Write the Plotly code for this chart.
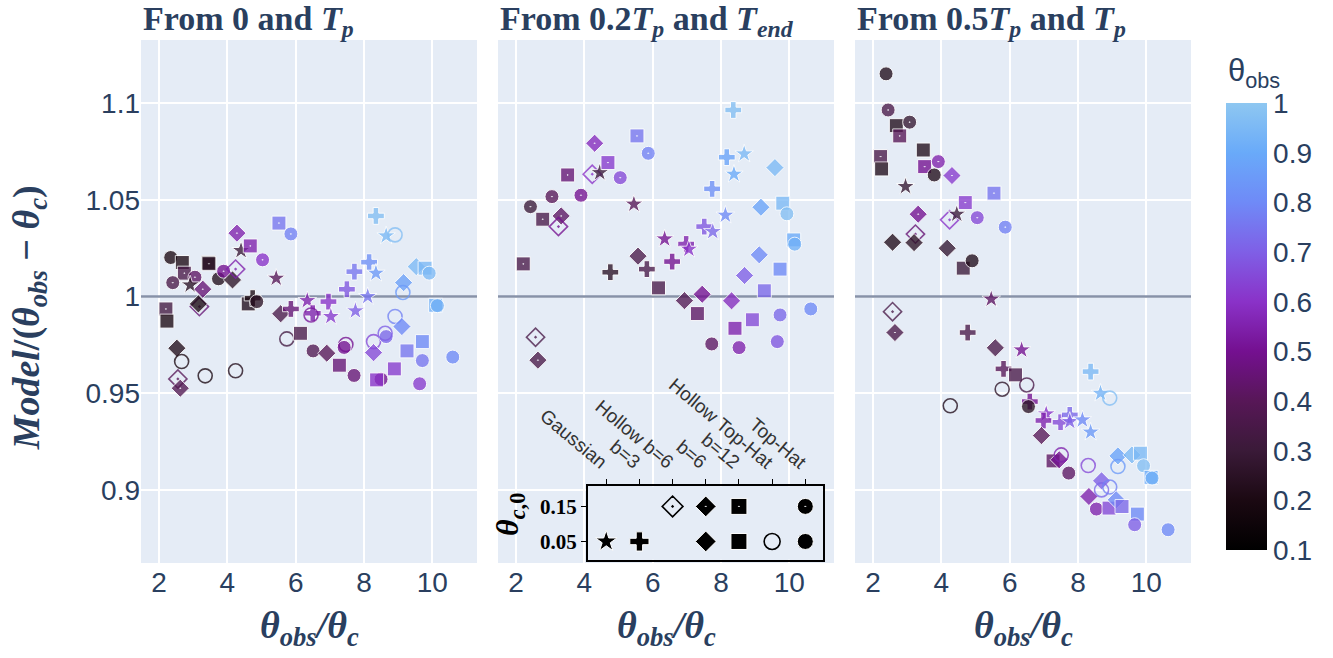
import plotly.graph_objects as go
from plotly.subplots import make_subplots

# Jet-structure categories shown in the symbol key
MODEL_KEYS = ["G", "b3", "H6", "b6", "b12", "HTH", "TH"]
MODEL_LABELS = ["Gaussian", "b=3", "Hollow b=6", "b=6", "b=12", "Hollow Top-Hat", "Top-Hat"]
THC0_TICKS = [0.05, 0.15]

# Panel 1: fit between 0 and T_p
P1_MODEL = ["TH", "b12", "b12", "TH", "TH", "G", "b12", "b12", "TH", "TH", "b6", "H6", "b6", "G",
            "b12", "TH", "b6", "b12", "b12", "H6", "b6", "b12", "b3", "TH", "b6", "HTH", "H6", "b6",
            "HTH", "HTH", "G", "b12", "TH", "b6", "b3", "HTH", "b12", "TH", "b6", "b12", "TH", "HTH",
            "TH", "G", "b3", "HTH", "b3", "G", "b3", "G", "b3", "b3", "G", "G", "b3", "G", "HTH",
            "HTH", "TH", "HTH", "HTH", "b6", "b6", "HTH", "b6", "b12", "TH", "b12", "TH", "b6",
            "b12", "b12", "TH", "b12", "TH", "b12", "TH", "TH"]
P1_THC0 = [0.05, 0.05, 0.15, 0.15, 0.15, 0.05, 0.05, 0.15, 0.05, 0.15, 0.05, 0.15, 0.15, 0.05,
           0.15, 0.15, 0.15, 0.15, 0.05, 0.15, 0.05, 0.05, 0.05, 0.05, 0.05, 0.05, 0.15, 0.15,
           0.05, 0.05, 0.05, 0.15, 0.15, 0.05, 0.05, 0.05, 0.05, 0.05, 0.05, 0.05, 0.05, 0.05,
           0.05, 0.05, 0.05, 0.05, 0.05, 0.05, 0.05, 0.05, 0.05, 0.05, 0.05, 0.05, 0.05, 0.05,
           0.05, 0.05, 0.05, 0.05, 0.05, 0.05, 0.05, 0.05, 0.05, 0.05, 0.05, 0.05, 0.05, 0.05,
           0.05, 0.05, 0.05, 0.05, 0.05, 0.05, 0.05, 0.05]
P1_X = [2.34, 2.68, 2.74, 3.05, 2.40, 2.91, 3.44, 3.46, 3.74, 3.89, 4.15, 4.24, 4.28, 4.40,
        4.67, 5.03, 3.28, 2.20, 2.23, 3.18, 3.15, 4.61, 4.74, 4.86, 2.52, 2.66, 2.55, 2.62,
        3.35, 4.24, 5.43, 5.51, 5.86, 5.56, 5.86, 5.74, 6.14, 6.51, 6.91, 7.28, 7.71, 7.47,
        7.42, 6.34, 6.50, 6.45, 6.96, 7.03, 7.50, 7.75, 7.72, 8.15, 8.35, 8.11, 8.35, 8.65,
        8.91, 8.28, 8.65, 8.62, 8.91, 9.11, 9.16, 9.14, 9.53, 9.79, 9.91, 10.10, 10.15, 8.28,
        9.26, 9.71, 9.71, 8.89, 8.50, 8.37, 9.63, 10.60]
P1_Y = [1.0202, 1.0176, 1.0121, 1.0100, 1.0072, 1.0060, 1.0175, 1.0170, 1.0092, 1.0131,
        1.0086, 1.0142, 1.0328, 1.0238, 1.0262, 1.0190, 1.0038, 0.9936, 0.9873, 0.9948,
        0.9962, 0.9962, 0.9992, 0.9974, 0.9733, 0.9664, 0.9574, 0.9526, 0.9590, 0.9616,
        1.0095, 1.0380, 1.0324, 0.9911, 0.9936, 0.9781, 0.9810, 0.9719, 0.9707, 0.9645,
        0.9592, 0.9752, 0.9737, 0.9979, 0.9914, 0.9905, 0.9974, 0.9897, 1.0038, 0.9926,
        1.0129, 1.0178, 1.0121, 1.0000, 1.0417, 1.0314, 1.0319, 0.9767, 0.9793, 0.9810,
        0.9897, 0.9845, 1.0072, 1.0021, 1.0155, 1.0147, 1.0121, 0.9955, 0.9953, 0.9710,
        0.9719, 0.9767, 0.9669, 0.9626, 0.9573, 0.9569, 0.9549, 0.9687]
P1_THETA = [0.20, 0.20, 0.35, 0.42, 0.35, 0.25, 0.20, 0.25, 0.22, 0.50, 0.25, 0.55, 0.55, 0.30,
            0.55, 0.60, 0.45, 0.33, 0.20, 0.45, 0.20, 0.22, 0.20, 0.25, 0.22, 0.20, 0.40, 0.38,
            0.20, 0.22, 0.40, 0.75, 0.78, 0.35, 0.45, 0.33, 0.35, 0.38, 0.40, 0.45, 0.45, 0.50,
            0.50, 0.55, 0.55, 0.52, 0.60, 0.62, 0.68, 0.70, 0.75, 0.82, 0.85, 0.75, 0.97, 0.95,
            0.97, 0.65, 0.72, 0.70, 0.78, 0.80, 0.87, 0.85, 0.95, 0.95, 0.95, 0.92, 0.92, 0.65,
            0.75, 0.80, 0.75, 0.62, 0.50, 0.60, 0.62, 0.80]

# Panel 2: fit between 0.2 T_p and T_end
P2_MODEL = ["b12", "TH", "b12", "TH", "b6", "H6", "b12", "TH", "b6", "H6", "G", "b12", "TH",
            "b12", "TH", "G", "H6", "b6", "b3", "b6", "b3", "b12", "b3", "G", "b3", "G", "b3",
            "G", "G", "b3", "b3", "G", "G", "b3", "b6", "b6", "b12", "TH", "b12", "TH", "b6",
            "b12", "b6", "b6", "b12", "TH", "TH", "b12", "b6", "b6", "b12", "TH", "b12", "TH", "TH"]
P2_THC0 = [0.15, 0.15, 0.15, 0.15, 0.15, 0.15, 0.15, 0.15, 0.15, 0.15, 0.05, 0.15, 0.15,
           0.15, 0.15, 0.05, 0.15, 0.15, 0.05, 0.05, 0.05, 0.05, 0.05, 0.05, 0.05, 0.05, 0.05,
           0.05, 0.05, 0.05, 0.05, 0.05, 0.05, 0.05, 0.05, 0.05, 0.05, 0.05, 0.05, 0.05, 0.05,
           0.05, 0.05, 0.05, 0.05, 0.05, 0.05, 0.05, 0.05, 0.05, 0.05, 0.05, 0.05, 0.05, 0.05]
P2_X = [2.21, 2.42, 2.78, 3.05, 3.32, 3.24, 3.51, 3.90, 4.30, 4.23, 4.45, 4.69, 5.05, 5.54,
        5.87, 5.45, 2.57, 2.64, 4.76, 5.57, 5.83, 6.17, 6.57, 6.35, 6.98, 7.06, 7.51, 7.76,
        8.13, 7.74, 8.17, 8.38, 8.68, 8.36, 6.93, 7.45, 7.31, 7.73, 8.41, 8.53, 8.31, 8.92,
        8.69, 9.12, 9.27, 9.73, 9.65, 9.73, 9.17, 9.58, 9.81, 9.93, 10.13, 10.16, 10.63]
P2_Y = [1.0169, 1.0465, 1.0400, 1.0517, 1.0417, 1.0362, 1.0629, 1.0524, 1.0793, 1.0633,
        1.0641, 1.0693, 1.0615, 1.0831, 1.0741, 1.0478, 0.9790, 0.9671, 1.0126, 1.0209,
        1.0142, 1.0045, 1.0181, 1.0298, 1.0272, 1.0245, 1.0362, 1.0336, 1.0421, 1.0557,
        1.0721, 1.0633, 1.0738, 1.0965, 0.9979, 1.0012, 0.9912, 0.9755, 0.9836, 0.9736,
        0.9978, 0.9880, 1.0109, 1.0216, 1.0030, 0.9905, 0.9767, 1.0142, 1.0462, 1.0667,
        1.0483, 1.0428, 1.0293, 1.0271, 0.9936]
P2_THETA = [0.35, 0.30, 0.35, 0.40, 0.42, 0.50, 0.45, 0.50, 0.58, 0.60, 0.30, 0.62, 0.65,
            0.75, 0.78, 0.40, 0.35, 0.35, 0.25, 0.35, 0.35, 0.35, 0.50, 0.50, 0.55, 0.60,
            0.68, 0.72, 0.80, 0.82, 0.88, 0.90, 0.95, 0.97, 0.38, 0.50, 0.42, 0.42, 0.55,
            0.55, 0.58, 0.65, 0.70, 0.80, 0.72, 0.72, 0.68, 0.80, 0.88, 0.95, 0.95, 0.97,
            0.90, 0.92, 0.80]

# Panel 3: fit between 0.5 T_p and T_p
P3_MODEL = ["TH", "TH", "b12", "TH", "b12", "b12", "b12", "b12", "b12", "TH", "TH", "b6", "G",
            "b12", "b12", "TH", "TH", "b6", "H6", "G", "H6", "b6", "b6", "b6", "b12", "TH", "G",
            "H6", "b6", "b3", "b6", "G", "b3", "b12", "HTH", "HTH", "HTH", "b3", "TH", "G", "b3",
            "b6", "b3", "b3", "G", "G", "G", "b3", "G", "HTH", "b12", "b6", "HTH", "TH", "HTH",
            "b6", "TH", "b12", "b6", "HTH", "HTH", "b6", "b12", "b6", "HTH", "b6", "b12", "TH",
            "b12", "TH", "b12", "TH", "TH"]
P3_THC0 = [0.05, 0.15, 0.05, 0.15, 0.15, 0.15, 0.05, 0.05, 0.15, 0.15, 0.05, 0.15, 0.05,
           0.15, 0.15, 0.15, 0.15, 0.15, 0.15, 0.05, 0.15, 0.05, 0.05, 0.05, 0.05, 0.05, 0.05,
           0.15, 0.15, 0.05, 0.05, 0.05, 0.05, 0.05, 0.05, 0.05, 0.05, 0.05, 0.05, 0.05, 0.05,
           0.05, 0.05, 0.05, 0.05, 0.05, 0.05, 0.05, 0.05, 0.05, 0.05, 0.05, 0.05, 0.05, 0.05,
           0.05, 0.05, 0.05, 0.05, 0.05, 0.05, 0.05, 0.05, 0.05, 0.05, 0.05, 0.05, 0.05, 0.05,
           0.05, 0.05, 0.05, 0.05]
P3_X = [2.38, 2.44, 2.68, 3.07, 2.78, 2.22, 2.25, 3.47, 3.51, 3.91, 3.79, 4.31, 2.95, 5.54,
        4.70, 5.05, 5.87, 3.32, 4.24, 4.45, 3.24, 2.57, 3.20, 4.17, 4.64, 4.90, 5.46, 2.57,
        2.64, 4.77, 5.58, 6.35, 5.82, 6.17, 5.78, 6.50, 4.26, 6.59, 6.55, 7.07, 6.99, 6.93,
        7.49, 7.76, 7.76, 8.13, 8.37, 8.37, 8.66, 8.93, 7.27, 7.45, 7.51, 7.73, 8.30, 8.32,
        8.54, 8.91, 8.69, 8.69, 8.93, 9.12, 9.29, 9.17, 9.17, 9.58, 9.83, 9.92, 10.14, 10.17,
        9.74, 9.66, 10.64]
P3_Y = [1.1152, 1.0965, 1.0884, 1.0902, 1.0831, 1.0724, 1.0660, 1.0758, 1.0672, 1.0698,
        1.0629, 1.0626, 1.0569, 1.0535, 1.0486, 1.0408, 1.0359, 1.0426, 1.0397, 1.0426,
        1.0323, 1.0281, 1.0279, 1.0250, 1.0147, 1.0185, 0.9987, 0.9922, 0.9814, 0.9814,
        0.9735, 0.9724, 0.9626, 0.9595, 0.9521, 0.9543, 0.9435, 0.9457, 0.9431, 0.9393,
        0.9359, 0.9281, 0.9350, 0.9388, 0.9354, 0.9362, 0.9299, 0.9612, 0.9500, 0.9475,
        0.9150, 0.9156, 0.9181, 0.9087, 0.9126, 0.8966, 0.8901, 0.8906, 0.9047, 0.9000,
        0.9015, 0.8949, 0.8914, 0.9176, 0.9121, 0.9181, 0.9190, 0.9125, 0.9065, 0.9061,
        0.8875, 0.8820, 0.8794]
P3_THETA = [0.22, 0.35, 0.22, 0.28, 0.40, 0.35, 0.22, 0.22, 0.50, 0.55, 0.22, 0.62, 0.28,
            0.75, 0.62, 0.65, 0.78, 0.50, 0.60, 0.30, 0.45, 0.22, 0.25, 0.28, 0.30, 0.22,
            0.42, 0.35, 0.35, 0.35, 0.35, 0.50, 0.40, 0.35, 0.25, 0.35, 0.22, 0.50, 0.25,
            0.60, 0.55, 0.40, 0.65, 0.72, 0.70, 0.80, 0.85, 0.95, 0.93, 0.97, 0.42, 0.50,
            0.55, 0.42, 0.65, 0.55, 0.55, 0.65, 0.70, 0.72, 0.78, 0.80, 0.72, 0.88, 0.85,
            0.95, 0.95, 0.97, 0.90, 0.92, 0.80, 0.70, 0.80]

# Entries of the symbol key (model, initial core angle)
KEY_MODEL = ["H6", "b6", "b12", "TH", "G", "b3", "b6", "b12", "HTH", "TH"]
KEY_THC0 = [0.15, 0.15, 0.15, 0.15, 0.05, 0.05, 0.05, 0.05, 0.05, 0.05]

PANEL_TITLES = ["From 0 and <i>T</i><sub><i>p</i></sub>",
                "From 0.2<i>T</i><sub><i>p</i></sub> and <i>T</i><sub><i>end</i></sub>",
                "From 0.5<i>T</i><sub><i>p</i></sub> and <i>T</i><sub><i>p</i></sub>"]

BASE_SYMBOL = {"G": "star", "b3": "cross", "H6": "diamond-open", "b6": "diamond",
               "b12": "square", "HTH": "circle-open", "TH": "circle"}

COLORSCALE = [[0.0, "#000000"], [1 / 9, "#1b0912"], [2 / 9, "#3a1a38"], [3 / 9, "#571757"],
              [4 / 9, "#741090"], [5 / 9, "#8a32c8"], [6 / 9, "#7f5fe6"], [7 / 9, "#6f8af7"],
              [8 / 9, "#69aaf9"], [1.0, "#8ec7f1"]]

X_RANGE = [1.47, 11.31]
Y_RANGE = [0.8622, 1.1327]
REFERENCE_LEVEL = 1.0

SANS = "Liberation Sans, Arial, sans-serif"
SERIF = "Liberation Serif, DejaVu Serif, serif"
INK = "#2a3f5f"


def symbol_for(model, thc0):
    s = BASE_SYMBOL[model]
    return s + "-dot" if thc0 > 0.1 else s


def line_widths(models):
    return [1.6 if BASE_SYMBOL[m].endswith("open") else 1.0 for m in models]


fig = make_subplots(rows=1, cols=3, shared_yaxes=True, horizontal_spacing=0.02)

panels = [(P1_MODEL, P1_THC0, P1_X, P1_Y, P1_THETA),
          (P2_MODEL, P2_THC0, P2_X, P2_Y, P2_THETA),
          (P3_MODEL, P3_THC0, P3_X, P3_Y, P3_THETA)]

for col, (models, thc0, xs, ys, th) in enumerate(panels, start=1):
    # unity reference line, drawn beneath the points
    fig.add_trace(go.Scatter(
        x=X_RANGE, y=[REFERENCE_LEVEL, REFERENCE_LEVEL], mode="lines", showlegend=False,
        hoverinfo="skip", line=dict(color="#8792a8", width=2.5),
    ), row=1, col=col)
    fig.add_trace(go.Scatter(
        x=xs, y=ys, mode="markers", showlegend=False,
        marker=dict(symbol=[symbol_for(m, t) for m, t in zip(models, thc0)],
                    size=14, color=th, coloraxis="coloraxis", opacity=0.78,
                    line=dict(color="white", width=line_widths(models))),
    ), row=1, col=col)

# Symbol key drawn as a small inset axis
fig.add_trace(go.Scatter(
    x=[MODEL_KEYS.index(m) for m in KEY_MODEL], y=KEY_THC0, mode="markers",
    showlegend=False, xaxis="x4", yaxis="y4",
    marker=dict(symbol=[symbol_for(m, t) for m, t in zip(KEY_MODEL, KEY_THC0)],
                size=16, color="black", line=dict(color="white", width=line_widths(KEY_MODEL))),
))

axis_font = dict(family=SANS, size=28, color=INK)
for i in range(1, 4):
    fig.update_xaxes(range=X_RANGE, tickvals=[2, 4, 6, 8, 10], tickfont=axis_font,
                     gridcolor="white", gridwidth=1.5, zeroline=False, row=1, col=i)
fig.update_yaxes(range=Y_RANGE, tickvals=[0.9, 0.95, 1, 1.05, 1.1],
                 ticktext=["0.9", "0.95", "1", "1.05", "1.1"], tickfont=axis_font,
                 gridcolor="white", gridwidth=1.5, zeroline=False)

fig.update_layout(
    width=1333, height=658,
    margin=dict(l=141, r=142, t=40, b=95),
    plot_bgcolor="#E5ECF6", paper_bgcolor="white",
    coloraxis=dict(
        colorscale=COLORSCALE, cmin=0.1, cmax=1.0,
        colorbar=dict(
            thickness=41, len=0.855, lenmode="fraction", y=0.4516, yanchor="middle",
            x=1.0336, xanchor="left", xpad=0, ypad=0, outlinewidth=0,
            ticks="outside", ticklen=1, tickcolor="rgba(0,0,0,0)",
            tickvals=[0.1, 0.2, 0.3, 0.4, 0.5, 0.6, 0.7, 0.8, 0.9, 1.0],
            ticktext=["0.1", "0.2", "0.3", "0.4", "0.5", "0.6", "0.7", "0.8", "0.9", "1"],
            tickfont=dict(family=SANS, size=28, color=INK),
        ),
    ),
    xaxis4=dict(domain=[0.4257, 0.6491], anchor="y4", side="top", range=[-0.55, 6.52],
                tickvals=list(range(len(MODEL_LABELS))), ticktext=MODEL_LABELS, tickangle=40,
                ticks="outside", ticklen=5, tickcolor="black", showgrid=False, zeroline=False,
                showline=True, mirror=True, linecolor="black", linewidth=2,
                tickfont=dict(family=SANS, size=19, color="#333333")),
    yaxis4=dict(domain=[0.0063, 0.1464], anchor="x4", range=[-0.002, 0.207],
                tickvals=THC0_TICKS, ticktext=["<b>0.05</b>", "<b>0.15</b>"],
                ticks="outside", ticklen=5, tickcolor="black", showgrid=False, zeroline=False,
                showline=True, mirror=True, linecolor="black", linewidth=2,
                tickfont=dict(family=SERIF, size=21, color="black")),
)

annotations = []
for i, (title, x0) in enumerate(zip(PANEL_TITLES, [0.0, 0.34, 0.68])):
    annotations.append(dict(text="<b>" + title + "</b>", x=x0, y=1.0, xref="paper", yref="paper",
                            xanchor="left", yanchor="bottom", showarrow=False, yshift=-4,
                            font=dict(family=SERIF, size=34, color=INK)))
    annotations.append(dict(text="<b><i>θ</i><sub><i>obs</i></sub><i>/θ</i><sub><i>c</i></sub></b>",
                            x=x0 + 0.16, y=-0.125, xref="paper", yref="paper",
                            xanchor="center", yanchor="middle", showarrow=False,
                            font=dict(family=SERIF, size=38, color=INK)))
annotations.append(dict(text="<b><i>Model</i>/(<i>θ</i><sub><i>obs</i></sub> − <i>θ</i><sub><i>c</i></sub>)</b>",
                        x=-0.107, y=0.469, xref="paper", yref="paper", textangle=-90,
                        xanchor="center", yanchor="middle", showarrow=False,
                        font=dict(family=SERIF, size=38, color=INK)))
annotations.append(dict(text="<b><i>θ</i><sub><i>c</i>,0</sub></b>",
                        x=0.3515, y=0.092, xref="paper", yref="paper", textangle=-90,
                        xanchor="center", yanchor="middle", showarrow=False,
                        font=dict(family=SERIF, size=32, color="black")))
# Colour bar heading
annotations.append(dict(text="θ<sub>obs</sub>", x=1.0336, y=0.937, xref="paper", yref="paper",
                        xanchor="left", yanchor="middle", showarrow=False,
                        font=dict(family=SANS, size=31, color=INK)))
fig.update_layout(annotations=annotations)

fig.write_html("out.html")
